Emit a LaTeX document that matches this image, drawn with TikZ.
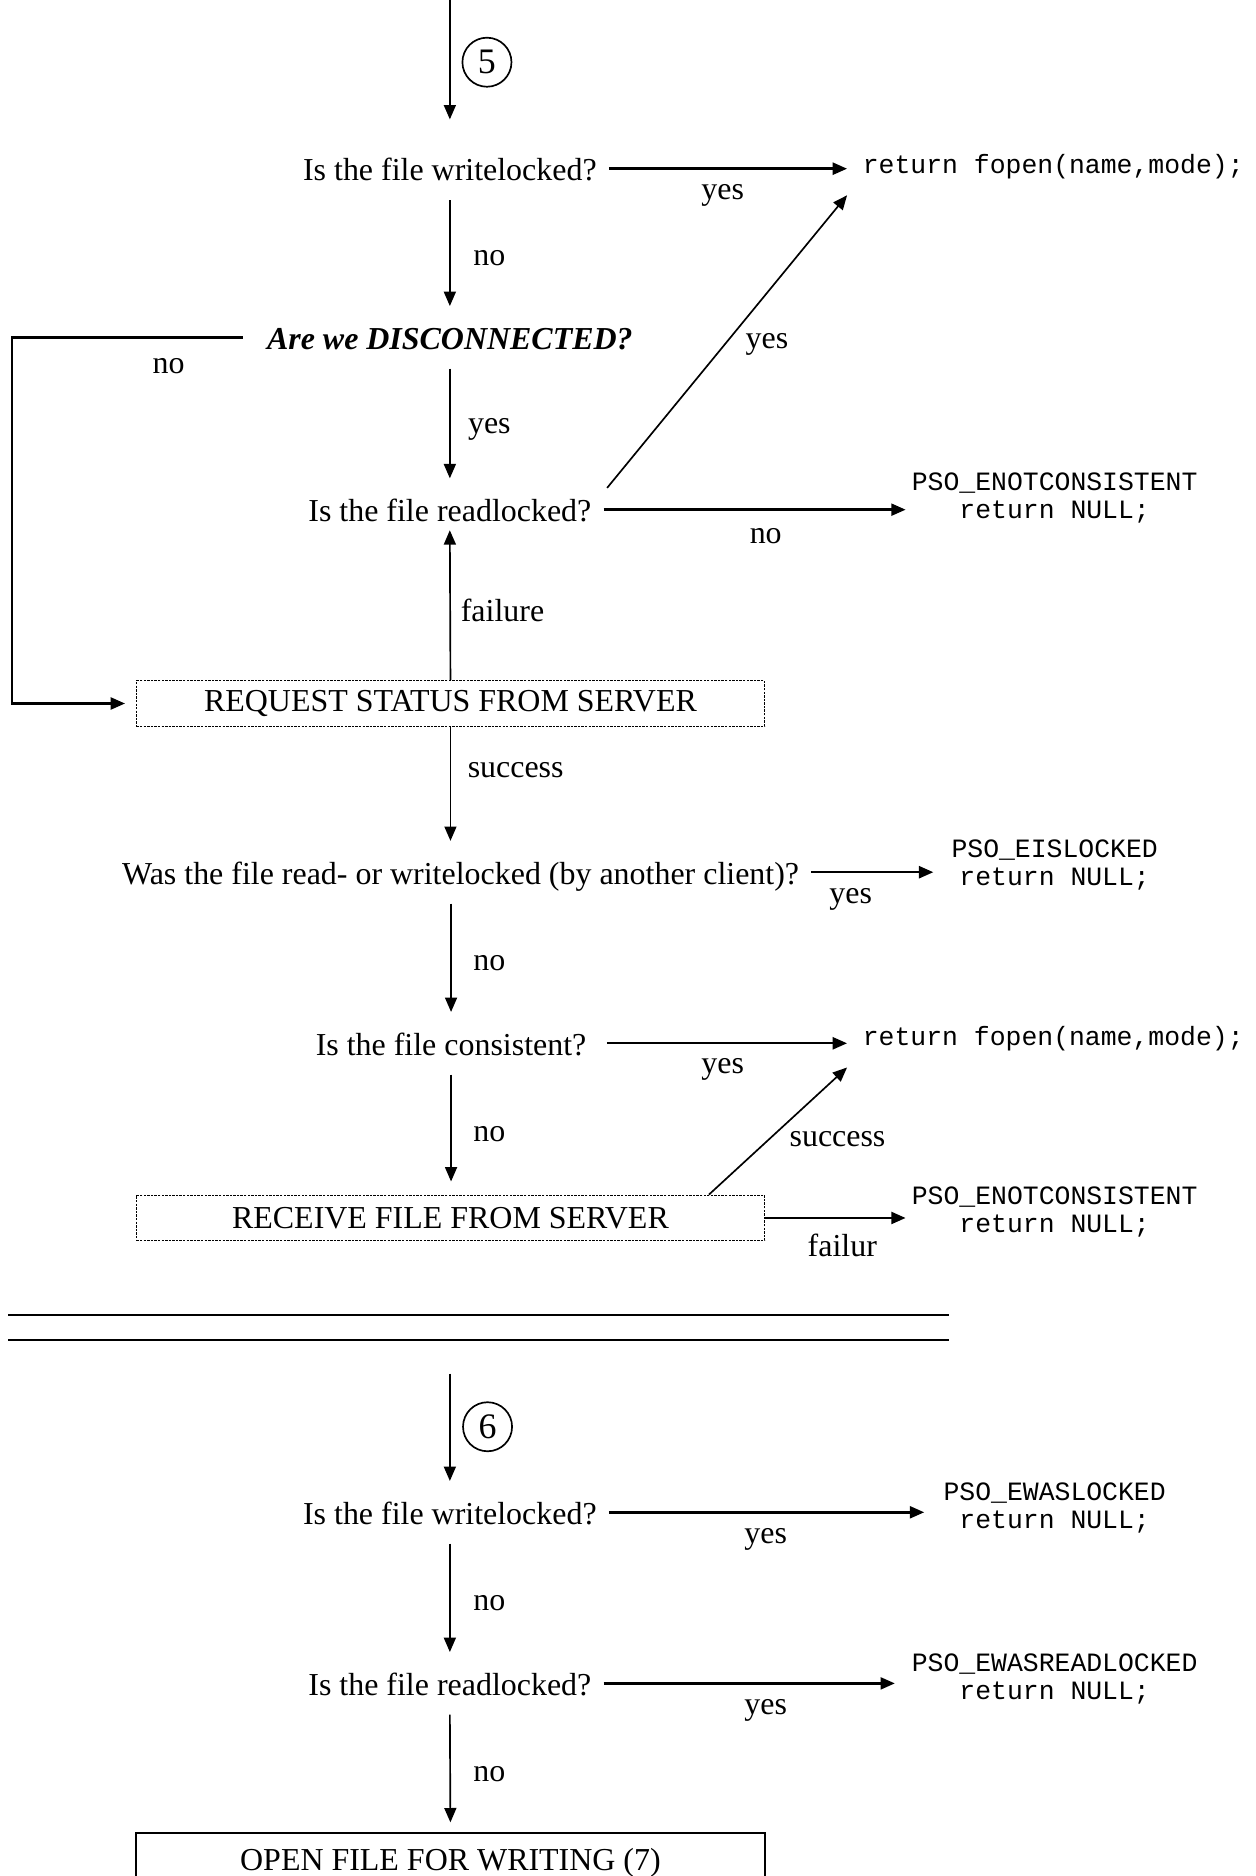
\documentclass[tikz,border=0pt]{standalone}
\usepackage{fontspec}
\setmainfont{Liberation Serif}
\setmonofont{Liberation Mono}
\usetikzlibrary{arrows.meta}
\begin{document}
\begin{tikzpicture}[x=1pt,y=-1pt,
  every node/.style={font=\fontsize{26.7}{32}\selectfont},
  q/.style={text height=20pt,text depth=0pt,inner xsep=10pt,inner ysep=16pt},
  code/.style={font=\ttfamily\fontsize{22.1}{23.5}\selectfont,align=center,inner ysep=2pt},
  ret/.style={font=\ttfamily\fontsize{22.1}{23.5}\selectfont,anchor=west,
              text height=14pt,text depth=4pt,inner xsep=13pt,inner ysep=14pt},
  lbl/.style={inner sep=0pt},
  tip/.style={-{Triangle[length=12pt,width=10pt]}},
  arr/.style={tip,line width=1.4pt},
  harr/.style={tip,line width=2pt},
  dotbox/.style={draw,dash pattern=on 2pt off 1pt,line width=1pt,
                 minimum width=525pt,minimum height=38pt,inner sep=0pt},
  marker/.style={circle,draw,line width=1.4pt,minimum size=41pt,inner sep=0pt,
                 font=\fontsize{30}{32}\selectfont}
]
\clip (0,0) rectangle (1049,1568);
\fill[white] (0,0) rectangle (1049,1568);

% ---------- section 5 ----------
\coordinate (top5) at (376,0);
\coordinate (loopL) at (10,0);
\node[marker] (c5) at (407,52) {5};

\node[q] (w5) at (376,141) {Is the file writelocked?};
\node[q,font=\fontsize{26.7}{32}\selectfont\bfseries\itshape] (dis) at (376,282) {Are we DISCONNECTED?};
\node[q] (r5) at (376,426) {Is the file readlocked?};
\node[dotbox] (req) at (376.5,588) {REQUEST STATUS FROM SERVER};
\node[q] (was) at (385,729) {Was the file read- or writelocked (by another client)?};
\node[q] (cons) at (377,872) {Is the file consistent?};
\node[dotbox] (recv) at (376.5,1018) {RECEIVE FILE FROM SERVER};

\node[ret] (ret1) at (708,140) {return fopen(name,mode);};
\node[ret] (ret2) at (708,869) {return fopen(name,mode);};
\node[code,inner xsep=5pt]  (e1) at (881.5,416.5) {PSO\_ENOTCONSISTENT\\return NULL;};
\node[code,inner xsep=15pt] (e2) at (881.5,723)   {PSO\_EISLOCKED\\return NULL;};
\node[code,inner xsep=5pt]  (e3) at (881.5,1013)  {PSO\_ENOTCONSISTENT\\return NULL;};

\draw[arr,shorten >=15pt] (top5) -- (top5 |- w5.north);
\draw[harr] (w5.east) -- (w5.east -| ret1.west);
\draw[arr] (w5.south) -- (dis.north);
\draw[harr,shorten <=10pt,shorten >=9pt] (dis.west) -- (dis.west -| loopL) |- (req.west);
\draw[arr] (dis.south) -- (r5.north);
\draw[arr] ([shift={(3,8)}]r5.north east) -- (ret1.south west);
\draw[harr] (r5.east) -- (r5.east -| e1.west);
\draw[arr,shorten >=-9pt] (req.north) -- (r5.south);
\draw[arr] (req.south) -- (req.south |- was.north);
\draw[harr] (was.east) -- (was.east -| e2.west);
\draw[arr] (cons.north |- was.south) -- (cons.north);
\draw[harr,shorten <=7pt] (cons.east) -- (cons.east -| ret2.west);
\draw[arr,shorten >=11pt] (cons.south) -- (cons.south |- recv.north);
\draw[arr] ([xshift=-47pt]recv.north east) -- (ret2.south west);
\draw[harr] (recv.east) -- (recv.east -| e3.west);

\node[lbl] at (604,163) {yes};
\node[lbl] at (409,216) {no};
\node[lbl] at (141,306) {no};
\node[lbl] at (641,288) {yes};
\node[lbl] at (409,359) {yes};
\node[lbl] at (640,448) {no};
\node[lbl] at (420,510) {failure};
\node[lbl] at (431,644) {success};
\node[lbl] at (711,752) {yes};
\node[lbl] at (409,805) {no};
\node[lbl] at (604,894) {yes};
\node[lbl] at (409,948) {no};
\node[lbl] at (700,952) {success};
\node[lbl] at (704,1041) {failur};

% ---------- separator ----------
\draw[line width=2.2pt] (7,1099) -- (793,1099);
\draw[line width=2.2pt] (7,1120) -- (793,1120);

% ---------- section 6 ----------
\coordinate (top6) at (376,1148);
\node[marker] (c6) at (407.5,1192.5) {6};
\node[q] (w6) at (376,1264) {Is the file writelocked?};
\node[q] (r6) at (376,1407) {Is the file readlocked?};
\node[draw,line width=1.7pt,minimum width=525pt,minimum height=50pt,inner sep=0pt] (open) at (376.5,1557) {OPEN FILE FOR WRITING (7)};
\node[code,inner xsep=16pt] (e4) at (881.5,1260.5) {PSO\_EWASLOCKED\\return NULL;};
\node[code,inner xsep=14pt] (e5) at (881.5,1403)   {PSO\_EWASREADLOCKED\\return NULL;};

\draw[arr] (top6) -- (top6 |- w6.north);
\draw[harr] (w6.east) -- (w6.east -| e4.west);
\draw[arr] (w6.south) -- (r6.north);
\draw[harr] (r6.east) -- (r6.east -| e5.west);
\draw[arr,shorten >=8pt] (r6.south) -- (open.north);

\node[lbl] at (640,1287) {yes};
\node[lbl] at (409,1340) {no};
\node[lbl] at (640,1430) {yes};
\node[lbl] at (409,1483) {no};
\end{tikzpicture}
\end{document}
